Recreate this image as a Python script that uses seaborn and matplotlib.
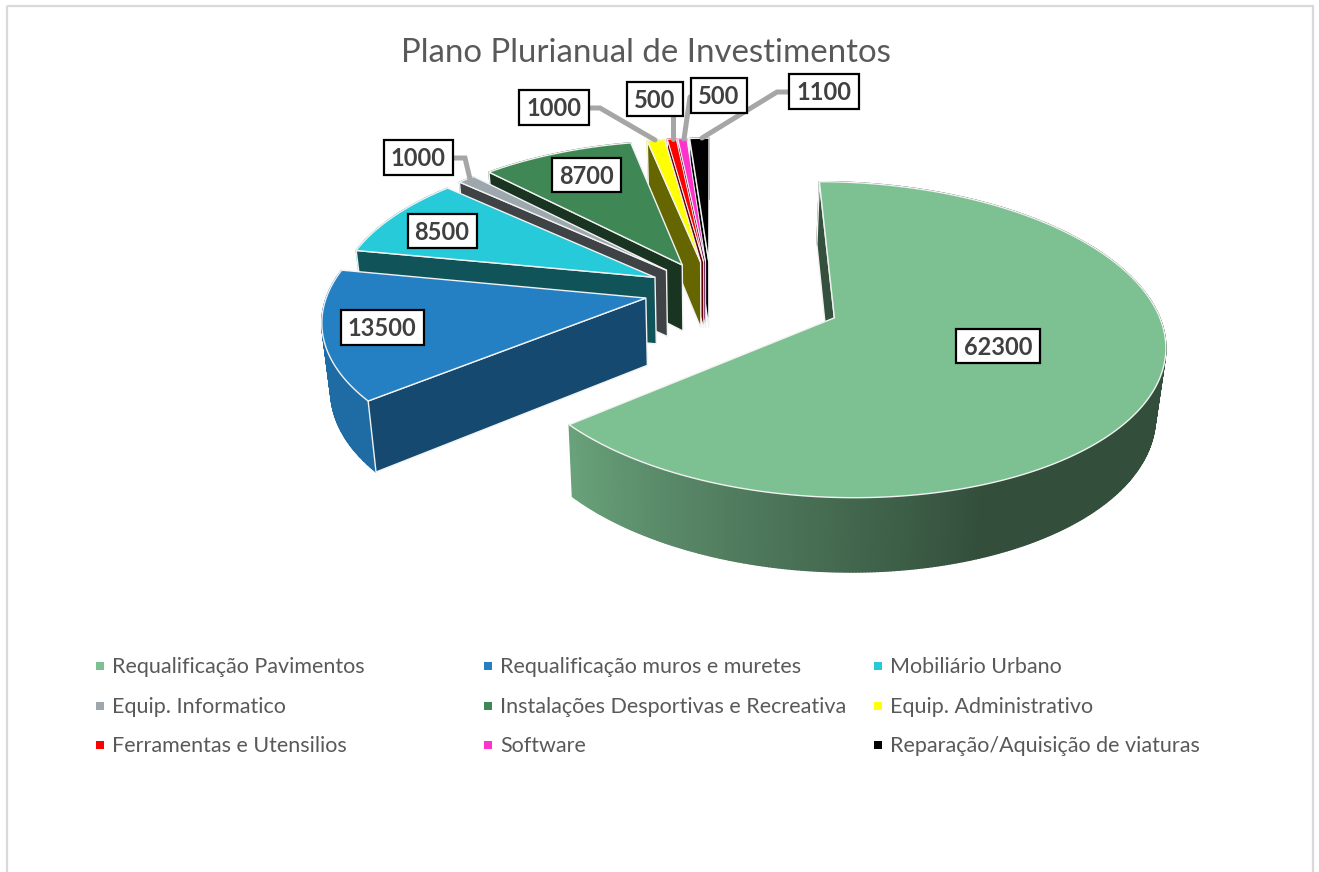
import numpy as np
import pandas as pd
import matplotlib
matplotlib.use("Agg")
import matplotlib.pyplot as plt
from matplotlib.patches import Polygon, Rectangle
import seaborn as sns

TITLE = "Plano Plurianual de Investimentos"
categories = ["Requalificação Pavimentos", "Requalificação muros e muretes", "Mobiliário Urbano",
              "Equip. Informatico", "Instalações Desportivas e Recreativa", "Equip. Administrativo",
              "Ferramentas e Utensilios", "Software", "Reparação/Aquisição de viaturas"]
values = [62300, 13500, 8500, 1000, 8700, 1000, 500, 500, 1100]
explode = [0.42, 0.21, 0.2, 0.2, 0.2, 0.2, 0.2, 0.2, 0.2]
colors = ["#7DC192", "#2580C3", "#26CAD8", "#9DA7AE", "#3F8754", "#FFFF00", "#FF0000", "#FF33CC", "#000000"]
wall_shade = [0.42, 0.57, 0.41, 0.40, 0.39, 0.40, 0.40, 0.40, 0.40]
label_centers = [(998, 346), (382, 327), (442, 231), (418, 158), (586, 175),
                 (554, 108), (655, 99), (719, 96), (824, 92)]
leaders = {3: [(452, 158), (465, 158), (470, 179)],
           5: [(589, 108), (600, 108), (655, 140)],
           6: [(673, 116), (673, 139)],
           7: [(690, 97), (684, 139)],
           8: [(789, 92), (777, 92), (702, 138)]}
label_size = [(84, 34), (83, 35), (69, 34), (69, 35), (69, 34), (70, 35), (56, 34), (56, 35), (70, 35)]

sns.set_theme(style="white")
plt.rcParams["font.family"] = ["Lato", "DejaVu Sans"]
palette = sns.color_palette(colors)

# projection of the tilted pie
VX, CY, A, B, P, H, Q = 711.0, 290.5, 317.5, 147.5, 0.135, 67.0, 0.023


def project(U, V, top=True):
    U, V = np.asarray(U, float), np.asarray(V, float)
    s = 1 / (1 - P * V)
    x = VX + A * U * s
    y = CY + B * V * s
    if not top:
        x = VX + (x - VX) * (1 - Q)
        y = y + H * s ** 0.6
    return x, y


def shade(rgb, f):
    return tuple(np.clip(np.array(rgb) * f, 0, 1))


def outer_factor(theta):
    return float(np.clip(0.41 + (theta - 160) / 71 * 0.43, 0.41, 0.84))


fig = plt.figure(figsize=(13.19, 8.72), dpi=100)
ax = fig.add_axes([0, 0, 1, 1])
ax.set_xlim(0, 1319)
ax.set_ylim(872, 0)
ax.axis("off")
ax.add_patch(Rectangle((7, 6), 1305.5, 900, fill=False, ec="#D9D9D9", lw=1.6, zorder=1))

frac = np.array(values, float) / sum(values) * 360
ends = np.cumsum(frac)
starts = ends - frac

for i in reversed(range(len(values))):
    t0, t1 = starts[i], ends[i]
    mid = np.radians((t0 + t1) / 2)
    U0, V0 = explode[i] * np.sin(mid), -explode[i] * np.cos(mid)
    th = np.radians(np.linspace(t0, t1, max(6, int(frac[i] * 2))))
    Ur, Vr = U0 + np.sin(th), V0 - np.cos(th)
    xt, yt = project(Ur, Vr, True)
    xb, yb = project(Ur, Vr, False)
    ax0, ay0 = project(U0, V0, True)
    bx0, by0 = project(U0, V0, False)
    col = palette[i]
    z = 10 + (len(values) - i) * 3
    edge = 1.0 if frac[i] > 3 else 0.7
    # outer wall, shaded along the rim
    for k in range(len(th) - 1):
        f = outer_factor(np.degrees((th[k] + th[k + 1]) / 2))
        c = shade(col, f)
        ax.add_patch(Polygon([(xt[k], yt[k]), (xt[k + 1], yt[k + 1]), (xb[k + 1], yb[k + 1]), (xb[k], yb[k])],
                             closed=True, fc=c, ec=c, lw=1.0, zorder=z))
    # cut wall at the start angle
    ax.add_patch(Polygon([(ax0, ay0), (xt[0], yt[0]), (xb[0], yb[0]), (bx0, by0)], closed=True,
                         fc=shade(col, wall_shade[i]), ec="#F2F2F2", lw=edge, zorder=z + 1))
    # top
    pts = [(ax0, ay0)] + list(zip(xt, yt))
    ax.add_patch(Polygon(pts, closed=True, fc=col, ec="#F2F2F2", lw=edge, zorder=z + 2))

# data labels
for i, v in enumerate(values):
    cx, cy = label_centers[i]
    w, h = label_size[i]
    if i in leaders:
        xs, ys = zip(*leaders[i])
        ax.plot(xs, ys, color="#A6A6A6", lw=3.6, solid_joinstyle="miter", zorder=60)
    ax.add_patch(Rectangle((cx - w / 2, cy - h / 2), w, h, fc="white", ec="black", lw=1.6, zorder=61))
    ax.text(cx, cy + 1, str(v), ha="center", va="center", fontsize=17, fontweight="bold", color="#404040", zorder=62)

ax.text(646, 53, TITLE, ha="center", va="center", fontsize=23.8, color="#595959", zorder=62)

# legend
col_x = [100, 488, 878]
row_y = [666, 706, 745]
leg = pd.DataFrame({
    "x": [col_x[i % 3] for i in range(len(categories))],
    "y": [row_y[i // 3] for i in range(len(categories))],
    "cat": categories,
})
sns.scatterplot(data=leg, x="x", y="y", hue="cat", palette=colors, hue_order=categories, marker="s", s=32,
                linewidth=0, legend=False, ax=ax, zorder=62)
ax.set_xlim(0, 1319)
ax.set_ylim(872, 0)
for _, r in leg.iterrows():
    ax.text(r["x"] + 12, r["y"] + 1, r["cat"], ha="left", va="center", fontsize=15.5, color="#595959", zorder=62)

fig.savefig("out.png", dpi=100, facecolor="white")
